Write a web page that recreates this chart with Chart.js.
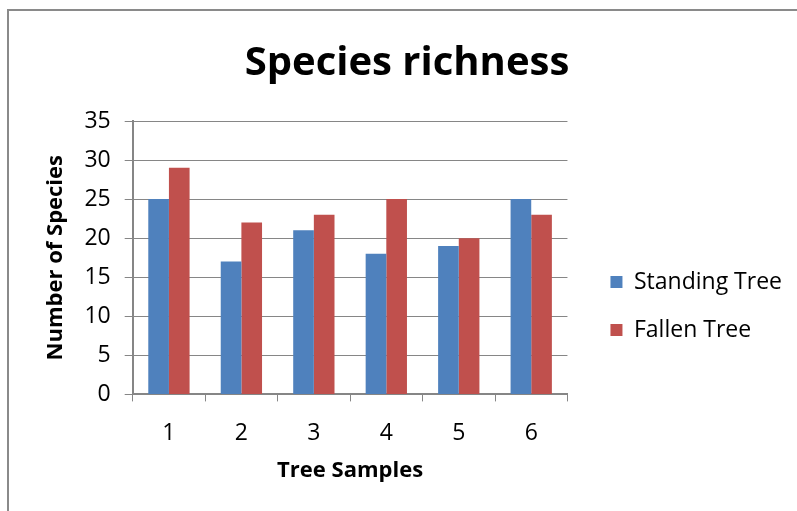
<!DOCTYPE html>
<html>
<head>
<meta charset="utf-8">
<script src="https://cdn.jsdelivr.net/npm/chart.js@4"></script>
<style>
  html, body { margin: 0; padding: 0; background: #fff; }
  #wrap { position: relative; width: 797px; height: 511px; }
  #frame { position: absolute; left: 7px; top: 9px; right: 0; bottom: 0;
           border-left: 2px solid #8a8a8a; border-top: 2px solid #8a8a8a; pointer-events: none; }
</style>
</head>
<body>
<div id="wrap">
  <canvas id="c" width="797" height="511"></canvas>
  <div id="frame"></div>
</div>
<script>
// chart data
const samples = ['1', '2', '3', '4', '5', '6'];
const standingTree = [25, 17, 21, 18, 19, 25];
const fallenTree = [29, 22, 23, 25, 20, 23];

const FONT = '"Open Sans", Lato, sans-serif';

const ctx = document.getElementById('c').getContext('2d');
new Chart(ctx, {
  type: 'bar',
  data: {
    labels: samples,
    datasets: [
      { label: 'Standing Tree', data: standingTree, backgroundColor: '#4f81bd' },
      { label: 'Fallen Tree', data: fallenTree, backgroundColor: '#c0504d' }
    ]
  },
  options: {
    responsive: false,
    animation: false,
    // the original chart box is cut off on the right, so the title centre sits left of the page centre
    layout: { padding: { left: 22, right: 5, top: 40, bottom: 35 } },
    datasets: { bar: { categoryPercentage: 0.57, barPercentage: 1 } },
    plugins: {
      title: {
        display: true, text: 'Species richness', color: '#000',
        font: { family: FONT, size: 40, weight: 'bold' },
        padding: { top: 0, bottom: 33 }
      },
      legend: {
        position: 'right',
        maxWidth: 320,
        // empty legend title only pushes the items down
        title: { display: true, text: '', font: { size: 10 }, padding: { top: 45, bottom: 39 } },
        labels: {
          color: '#000', boxWidth: 12, boxHeight: 12, padding: 25,
          font: { family: FONT, size: 23 }
        }
      },
      tooltip: { enabled: false }
    },
    scales: {
      x: {
        grid: { drawOnChartArea: false, tickLength: 7, color: '#868686', tickColor: '#868686' },
        border: { color: '#868686', width: 2 },
        ticks: { color: '#000', padding: 18, font: { family: FONT, size: 23 } },
        title: { display: true, text: 'Tree Samples', color: '#000',
                 font: { family: FONT, size: 22, weight: 'bold', lineHeight: 0.5 }, padding: { top: 0, bottom: 0 } }
      },
      y: {
        min: 0, max: 35,
        ticks: { stepSize: 5, color: '#000', padding: 14, font: { family: FONT, size: 23 } },
        grid: { color: '#868686', tickLength: 8, tickColor: '#868686' },
        border: { color: '#868686', width: 2 },
        title: { display: true, text: 'Number of Species', color: '#000',
                 font: { family: FONT, size: 22, weight: 'bold' }, padding: { top: 21, bottom: 1 } }
      },
      // blank spacer between plot and legend
      gap: {
        type: 'linear', position: 'right', display: true,
        grid: { display: false }, border: { display: false }, ticks: { display: false },
        afterFit: s => { s.width = 18; }
      }
    }
  }
});
</script>
</body>
</html>
